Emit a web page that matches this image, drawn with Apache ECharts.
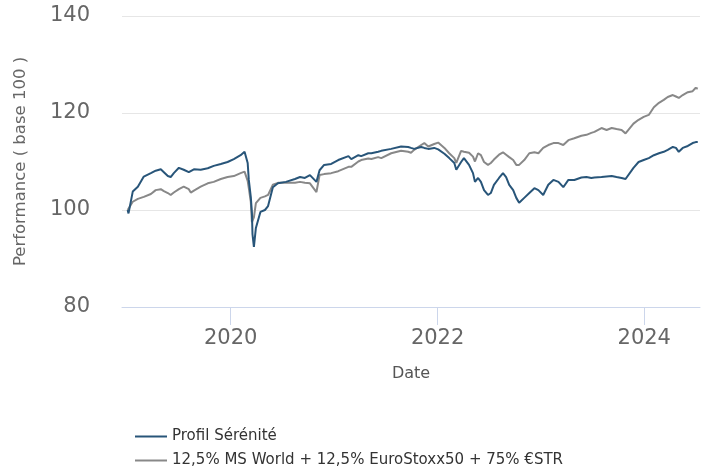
<!DOCTYPE html>
<html>
<head>
<meta charset="utf-8">
<script src="https://cdn.jsdelivr.net/npm/echarts@6/dist/echarts.min.js"></script>
<style>
html,body{margin:0;padding:0;background:#fff;}
#chart{width:709px;height:471px;}
</style>
</head>
<body>
<div id="chart"></div>
<script>
const dates = [
'2019-01-02','2019-01-05','2019-01-20','2019-02-07','2019-02-28','2019-03-25','2019-04-11','2019-04-29','2019-05-10','2019-05-24','2019-06-03','2019-06-14','2019-07-02','2019-07-19','2019-08-06','2019-08-13','2019-08-24','2019-09-17','2019-10-12','2019-11-02','2019-11-27','2019-12-21',
'2020-01-12','2020-02-05','2020-02-19','2020-03-01','2020-03-05','2020-03-12','2020-03-16','2020-03-18','2020-03-23','2020-03-30','2020-04-15','2020-05-01','2020-05-12','2020-05-29','2020-06-16','2020-07-14','2020-08-15','2020-09-02','2020-09-19','2020-10-07','2020-10-30','2020-11-10','2020-11-26','2020-12-21',
'2021-01-15','2021-02-20','2021-03-02','2021-03-27','2021-04-06','2021-05-01','2021-05-12','2021-06-05','2021-06-16','2021-07-21','2021-08-25','2021-09-19','2021-09-29','2021-10-10','2021-10-17','2021-11-04','2021-11-15','2021-11-29','2021-12-20',
'2022-01-03','2022-01-25','2022-02-11','2022-03-01','2022-03-08','2022-03-25','2022-04-04','2022-04-22','2022-05-06','2022-05-13','2022-05-24','2022-06-03','2022-06-14','2022-06-28','2022-07-08','2022-07-19','2022-08-06','2022-08-20','2022-08-31','2022-09-11','2022-09-25','2022-10-06','2022-10-16','2022-11-03','2022-11-21','2022-12-09','2022-12-23',
'2023-01-09','2023-01-27','2023-02-14','2023-03-04','2023-03-21','2023-04-08','2023-04-29','2023-05-24','2023-06-11','2023-06-28','2023-07-09','2023-08-03','2023-08-21','2023-09-08','2023-09-25','2023-10-13','2023-10-27','2023-11-24','2023-12-12','2023-12-30',
'2024-01-17','2024-02-04','2024-02-22','2024-03-10','2024-03-24','2024-04-11','2024-04-22','2024-05-02','2024-05-16','2024-06-03','2024-06-20','2024-07-01','2024-07-08'
];

const profilSerenite = [
100.0, 99.3, 103.8, 104.8, 106.9, 107.6, 108.1, 108.4, 107.8, 107.0, 106.8, 107.6, 108.7, 108.3, 107.8, 107.6, 108.4, 108.3, 108.6, 109.1, 109.5, 109.9,
110.5, 111.3, 112.0, 109.7, 106.2, 102.7, 99.4, 95.0, 92.4, 96.3, 99.6, 100.0, 100.8, 104.7, 105.5, 105.8, 106.4, 106.8, 106.6, 107.2, 105.8, 108.2, 109.3, 109.5,
110.3, 111.1, 110.5, 111.3, 111.1, 111.7, 111.7, 112.0, 112.2, 112.6, 113.1, 113.0, 112.8, 112.6, 112.8, 113.0, 112.8, 112.6, 112.8,
112.5, 111.6, 110.7, 109.7, 108.3, 109.9, 110.7, 109.3, 107.6, 105.8, 106.6, 105.8, 104.1, 103.1, 103.5, 105.2, 106.6, 107.6, 106.8, 105.2, 104.1, 102.5, 101.5, 102.5, 103.5, 104.5, 104.1,
103.1, 105.2, 106.2, 105.8, 104.7, 106.2, 106.2, 106.7, 106.8, 106.6, 106.7, 106.8, 106.9, 107.0, 106.8, 106.6, 106.4, 108.7, 109.9, 110.3,
110.7, 111.3, 111.7, 112.0, 112.4, 113.0, 112.8, 112.0, 112.8, 113.2, 113.8, 114.0, 114.0
];

const benchmark = [
100.0, 100.4, 101.7, 102.3, 102.7, 103.3, 104.1, 104.3, 103.9, 103.5, 103.1, 103.6, 104.3, 104.8, 104.3, 103.6, 104.0, 104.8, 105.5, 105.8, 106.4, 106.8,
107.0, 107.6, 107.9, 106.0, 104.5, 101.7, 97.5, 97.3, 98.5, 101.4, 102.5, 102.8, 103.1, 105.2, 105.6, 105.6, 105.6, 105.8, 105.6, 105.5, 103.7, 107.2, 107.4, 107.6,
108.0, 108.9, 108.9, 110.0, 110.3, 110.6, 110.5, 110.9, 110.7, 111.7, 112.2, 112.0, 111.8, 112.4, 112.8, 113.4, 113.8, 113.1, 113.6,
113.9, 112.8, 111.7, 110.7, 109.7, 112.2, 112.0, 111.8, 111.0, 110.0, 111.7, 111.3, 109.9, 109.3, 109.7, 110.4, 111.4, 111.9, 111.4, 110.9, 110.3, 109.3, 109.3, 110.3, 111.7, 111.9, 111.7,
112.8, 113.4, 113.8, 113.8, 113.4, 114.4, 114.8, 115.3, 115.5, 115.9, 116.1, 116.9, 116.5, 116.9, 116.7, 116.5, 115.8, 117.8, 118.6, 119.2,
119.6, 121.2, 122.1, 122.7, 123.3, 123.7, 123.4, 123.1, 123.7, 124.3, 124.5, 125.2, 125.0
];

const seriesNames = ['Profil Sérénité', '12,5% MS World + 12,5% EuroStoxx50 + 75% €STR'];
const tickYears = [2020, 2022, 2024];
const yTicks = [80, 100, 120, 140];
const xRange = ['2018-12-13', '2024-07-16'];

const FONT = 'DejaVu Sans';
const toTime = s => { const p = s.split('-').map(Number); return Date.UTC(p[0], p[1] - 1, p[2]); };
const tickTimes = tickYears.map(y => Date.UTC(y, 0, 1));
const pair = arr => dates.map((d, i) => [toTime(d), arr[i]]);

const legendCommon = {
  orient: 'horizontal',
  left: 130,
  itemWidth: 32,
  itemHeight: 2,
  icon: 'path://M0,0 H32 V2 H0 Z',
  itemGap: 10,
  textStyle: {fontFamily: FONT, fontSize: 15, color: '#333333'}
};

const chart = echarts.init(document.getElementById('chart'), null, {renderer: 'canvas'});
chart.setOption({
  animation: false,
  backgroundColor: '#ffffff',
  grid: {left: 122, right: 9, top: 16, bottom: 164, containLabel: false},
  legend: [
    Object.assign({}, legendCommon, {top: 424, data: [seriesNames[0]]}),
    Object.assign({}, legendCommon, {top: 448, data: [seriesNames[1]]})
  ],
  xAxis: {
    type: 'value',
    min: toTime(xRange[0]),
    max: toTime(xRange[1]),
    name: 'Date',
    nameLocation: 'middle',
    nameGap: 59,
    nameTextStyle: {fontFamily: FONT, fontSize: 16, color: '#555555'},
    axisLine: {show: true, lineStyle: {color: '#ccd6eb', width: 1}},
    axisTick: {show: true, length: 18, lineStyle: {color: '#ccd6eb'}, customValues: tickTimes},
    axisLabel: {
      customValues: tickTimes,
      margin: 21,
      fontFamily: FONT, fontSize: 21, color: '#666666',
      formatter: v => String(new Date(v).getUTCFullYear())
    },
    splitLine: {show: false}
  },
  yAxis: {
    type: 'value',
    min: yTicks[0],
    max: yTicks[yTicks.length - 1],
    interval: 20,
    name: 'Performance ( base 100 )',
    nameLocation: 'middle',
    nameGap: 93,
    nameTextStyle: {fontFamily: FONT, fontSize: 16.5, color: '#666666'},
    axisLine: {show: false},
    axisTick: {show: false},
    axisLabel: {margin: 32, fontFamily: FONT, fontSize: 21, color: '#666666'},
    splitLine: {show: true, lineStyle: {color: '#e6e6e6', width: 1}}
  },
  series: [
    {
      name: seriesNames[1], type: 'line', data: pair(benchmark),
      symbol: 'none', lineStyle: {color: '#888888', width: 2}, itemStyle: {color: '#888888'}, z: 2
    },
    {
      name: seriesNames[0], type: 'line', data: pair(profilSerenite),
      symbol: 'none', lineStyle: {color: '#285579', width: 2}, itemStyle: {color: '#285579'}, z: 3
    }
  ]
});
</script>
</body>
</html>
